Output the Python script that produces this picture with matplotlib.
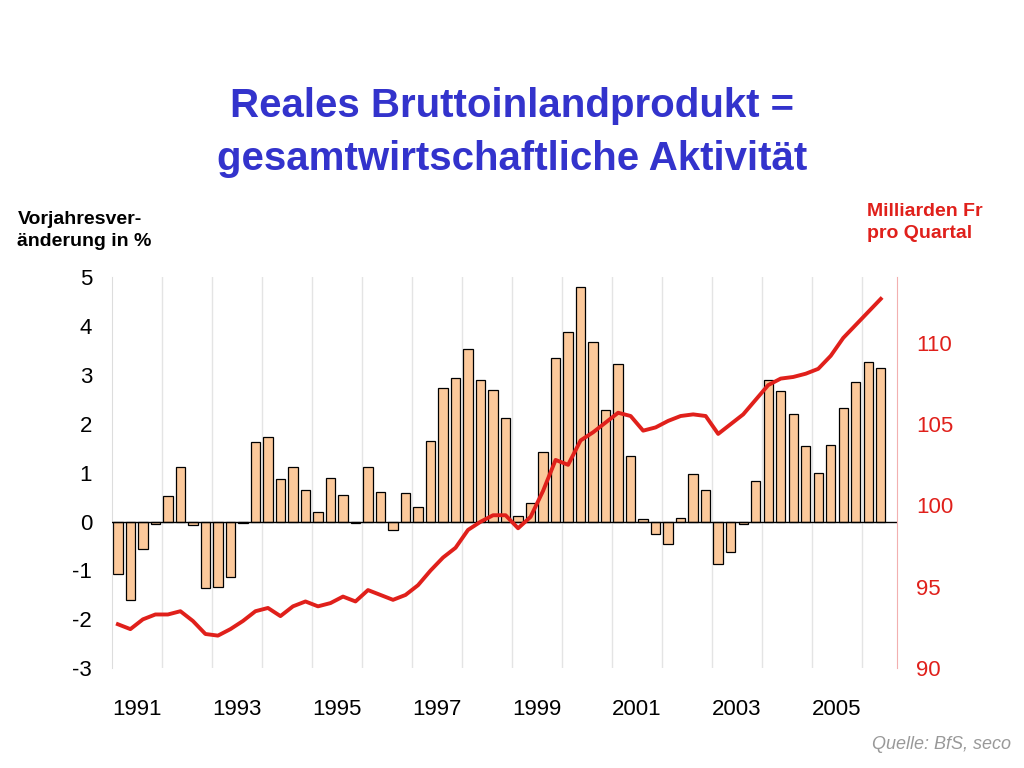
import matplotlib.pyplot as plt
import numpy as np

plt.rcParams['font.family'] = 'Liberation Sans'

# quarterly growth vs previous year (%), 1991Q1 - 2006Q2
growth = [-1.08, -1.6, -0.57, -0.05,
          0.52, 1.12, -0.07, -1.35,
          -1.33, -1.13, -0.03, 1.62,
          1.73, 0.88, 1.12, 0.65,
          0.2, 0.9, 0.54, -0.03,
          1.12, 0.6, -0.18, 0.58,
          0.3, 1.65, 2.73, 2.93,
          3.53, 2.9, 2.7, 2.12,
          0.12, 0.38, 1.42, 3.35,
          3.87, 4.8, 3.68, 2.28,
          3.22, 1.35, 0.05, -0.25,
          -0.45, 0.07, 0.97, 0.65,
          -0.87, -0.62, -0.05, 0.83,
          2.9, 2.68, 2.2, 1.55,
          1.0, 1.57, 2.32, 2.85,
          3.27, 3.15]

# real GDP, billion Fr per quarter
level = [92.7, 92.4, 93.0, 93.3,
         93.3, 93.5, 92.9, 92.1,
         92.0, 92.4, 92.9, 93.5,
         93.7, 93.2, 93.8, 94.1,
         93.8, 94.0, 94.4, 94.1,
         94.8, 94.5, 94.2, 94.5,
         95.1, 96.0, 96.8, 97.4,
         98.5, 99.0, 99.4, 99.4,
         98.6, 99.3, 100.9, 102.8,
         102.5, 104.0, 104.5, 105.1,
         105.7, 105.5, 104.6, 104.8,
         105.2, 105.5, 105.6, 105.5,
         104.4, 105.0, 105.6, 106.5,
         107.4, 107.8, 107.9, 108.1,
         108.4, 109.2, 110.3, 111.1,
         111.9, 112.7]

year_labels = ['1991', '1993', '1995', '1997', '1999', '2001', '2003', '2005']

q = np.arange(len(growth))

fig = plt.figure(figsize=(10.24, 7.68), dpi=100)
ax = fig.add_axes([0.109, 0.130, 0.767, 0.509])

# year boundary grid
for b in range(4, 62, 4):
    ax.axvline(b - 0.5, color='#e4e4e4', lw=1, zorder=0)

ax.bar(q, growth, width=0.75, color='#fcc99b', edgecolor='black', lw=0.9, zorder=2)
ax.axhline(0, color='black', lw=1, zorder=3)

ax.set_xlim(-0.5, 62.3)
ax.set_ylim(-3, 5)
ax.set_yticks(range(-3, 6))
ax.set_yticklabels([str(v) for v in range(-3, 6)], fontsize=16)
ax.set_xticks([8 * i + 1.5 for i in range(len(year_labels))])
ax.set_xticklabels(year_labels, fontsize=16)
ax.tick_params(axis='x', length=0, pad=22)
ax.tick_params(axis='y', length=0, pad=14)
for s in ['top', 'right', 'bottom']:
    ax.spines[s].set_visible(False)
ax.spines['left'].set_color('#dddddd')

ax2 = ax.twinx()
ax2.plot(q, level, color='#e0201b', lw=2.8, zorder=4)
ax2.set_ylim(90, 114.03)
ax2.set_yticks([90, 95, 100, 105, 110])
ax2.tick_params(axis='y', colors='#e0201b', labelsize=16, length=0, pad=14)
for s in ['top', 'left', 'bottom']:
    ax2.spines[s].set_visible(False)
ax2.spines['right'].set_color('#f2b0b0')

fig.text(0.5, 0.828, 'Reales Bruttoinlandprodukt =\ngesamtwirtschaftliche Aktivität',
         ha='center', va='center', fontsize=29, fontweight='bold', color='#3333cc',
         linespacing=1.5)
fig.text(0.017, 0.70, 'Vorjahresver-\nänderung in %', fontsize=14, fontweight='bold',
         ha='left', va='center', linespacing=1.4)
fig.text(0.847, 0.71, 'Milliarden Fr\npro Quartal', fontsize=14, fontweight='bold',
         color='#e0201b', ha='left', va='center', linespacing=1.4)
fig.text(0.987, 0.02, 'Quelle: BfS, seco', fontsize=13, style='italic',
         color='#999999', ha='right', va='bottom')

fig.savefig('out.png', dpi=100)
